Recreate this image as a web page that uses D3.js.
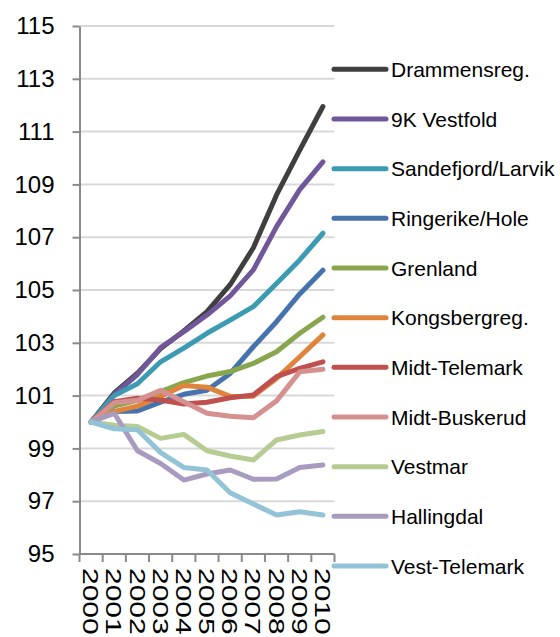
<!DOCTYPE html>
<html><head><meta charset="utf-8">
<script src="https://cdn.jsdelivr.net/npm/d3@7"></script>
<style>
html,body{margin:0;padding:0;background:#fff;}
svg{display:block;font-family:"Liberation Sans",Arial,sans-serif;}
</style></head>
<body>
<svg id="c" width="560" height="637"></svg>
<script>
const years = ["2000","2001","2002","2003","2004","2005","2006","2007","2008","2009","2010"];
const yTicks = [95,97,99,101,103,105,107,109,111,113,115];
const seriesNames = ["Drammensreg.","9K Vestfold","Sandefjord/Larvik","Ringerike/Hole","Grenland","Kongsbergreg.","Midt-Telemark","Midt-Buskerud","Vestmar","Hallingdal","Vest-Telemark"];
const colors = ["#3f3f3f","#70579a","#3c9bb3","#4673ae","#89a64e","#df843a","#c0504d","#d59190","#b6cc93","#a99bc0","#92c3d6"];
const drammensreg   = [100,101.1,101.85,102.78,103.45,104.18,105.2,106.6,108.6,110.3,111.95];
const vestfold9K    = [100,101.05,101.8,102.82,103.42,104.05,104.78,105.76,107.4,108.8,109.85];
const sandefjord    = [100,101.0,101.45,102.28,102.8,103.36,103.86,104.37,105.25,106.14,107.15];
const ringerike     = [100,100.4,100.42,100.75,101.05,101.2,101.84,102.85,103.8,104.85,105.75];
const grenland      = [100,100.6,100.82,101.15,101.49,101.74,101.91,102.22,102.66,103.36,103.97];
const kongsberg     = [100,100.4,100.6,100.97,101.38,101.32,100.97,100.98,101.65,102.47,103.3];
const midtTelemark  = [100,100.77,100.9,100.83,100.68,100.75,100.92,101.02,101.72,102.03,102.28];
const midtBuskerud  = [100,100.73,100.82,101.2,100.77,100.33,100.22,100.16,100.8,101.9,102.0];
const vestmar       = [100,99.88,99.83,99.38,99.53,98.91,98.71,98.56,99.32,99.51,99.64];
const hallingdal    = [100,100.33,98.91,98.43,97.8,98.03,98.18,97.83,97.84,98.28,98.37];
const vestTelemark  = [100,99.74,99.71,98.84,98.28,98.18,97.32,96.89,96.48,96.6,96.48];
const seriesValues = [drammensreg,vestfold9K,sandefjord,ringerike,grenland,kongsberg,midtTelemark,midtBuskerud,vestmar,hallingdal,vestTelemark];

const svg = d3.select("#c");
const x = d3.scaleBand().domain(years).range([79.5, 334.5]).padding(0);
const y = d3.scaleLinear().domain([95,115]).range([554, 26]);
const axisColor = "#8a8a8a";

// gridlines
svg.append("g").selectAll("line").data(yTicks.slice(1)).join("line")
  .attr("x1", x.range()[0]).attr("x2", x.range()[1])
  .attr("y1", d=>y(d)).attr("y2", d=>y(d))
  .attr("stroke","#d9d9d9").attr("stroke-width",2);

// y axis
const yAxis = svg.append("g").attr("transform",`translate(${x.range()[0]},0)`)
  .call(d3.axisLeft(y).tickValues(yTicks).tickSize(7).tickSizeOuter(0).tickPadding(18));
yAxis.select(".domain").attr("stroke",axisColor).attr("stroke-width",2);
yAxis.selectAll(".tick line").attr("stroke",axisColor).attr("stroke-width",2);
yAxis.selectAll(".tick text").attr("font-size",24).attr("fill","#000")
  .attr("font-family","'Liberation Sans',Arial,sans-serif");

// x axis
const xg = svg.append("g");
xg.append("line").attr("x1",x.range()[0]).attr("x2",x.range()[1]).attr("y1",y(95)).attr("y2",y(95))
  .attr("stroke",axisColor).attr("stroke-width",2);
const edges = years.map(d=>x(d)).concat([x.range()[1]]);
xg.selectAll("line.t").data(edges).join("line").attr("class","t")
  .attr("x1",d=>d).attr("x2",d=>d).attr("y1",y(95)).attr("y2",y(95)+8)
  .attr("stroke",axisColor).attr("stroke-width",2);
xg.selectAll("text").data(years).join("text")
  .attr("transform",d=>`translate(${x(d)+x.bandwidth()/2},568) rotate(90) scale(1.36,1)`)
  .attr("dy","0.36em").attr("font-size",22).attr("fill","#000")
  .text(d=>d);

// lines
const line = d3.line().x((d,i)=>x(years[i])+x.bandwidth()/2).y(d=>y(d));
svg.append("g").selectAll("path").data(seriesValues).join("path")
  .attr("d",d=>line(d)).attr("fill","none")
  .attr("stroke",(d,i)=>colors[i]).attr("stroke-width",5)
  .attr("stroke-linecap","round").attr("stroke-linejoin","round");

// legend
const ly = d3.scaleLinear().domain([0,10]).range([69.3,566]);
const lg = svg.append("g").selectAll("g").data(seriesNames).join("g")
  .attr("transform",(d,i)=>`translate(0,${ly(i)})`);
lg.append("line").attr("x1",334).attr("x2",386).attr("stroke",(d,i)=>colors[i])
  .attr("stroke-width",5).attr("stroke-linecap","round");
lg.append("text").attr("x",391).attr("dy","0.36em").attr("font-size",21).attr("fill","#000").text(d=>d);
</script>
</body></html>
